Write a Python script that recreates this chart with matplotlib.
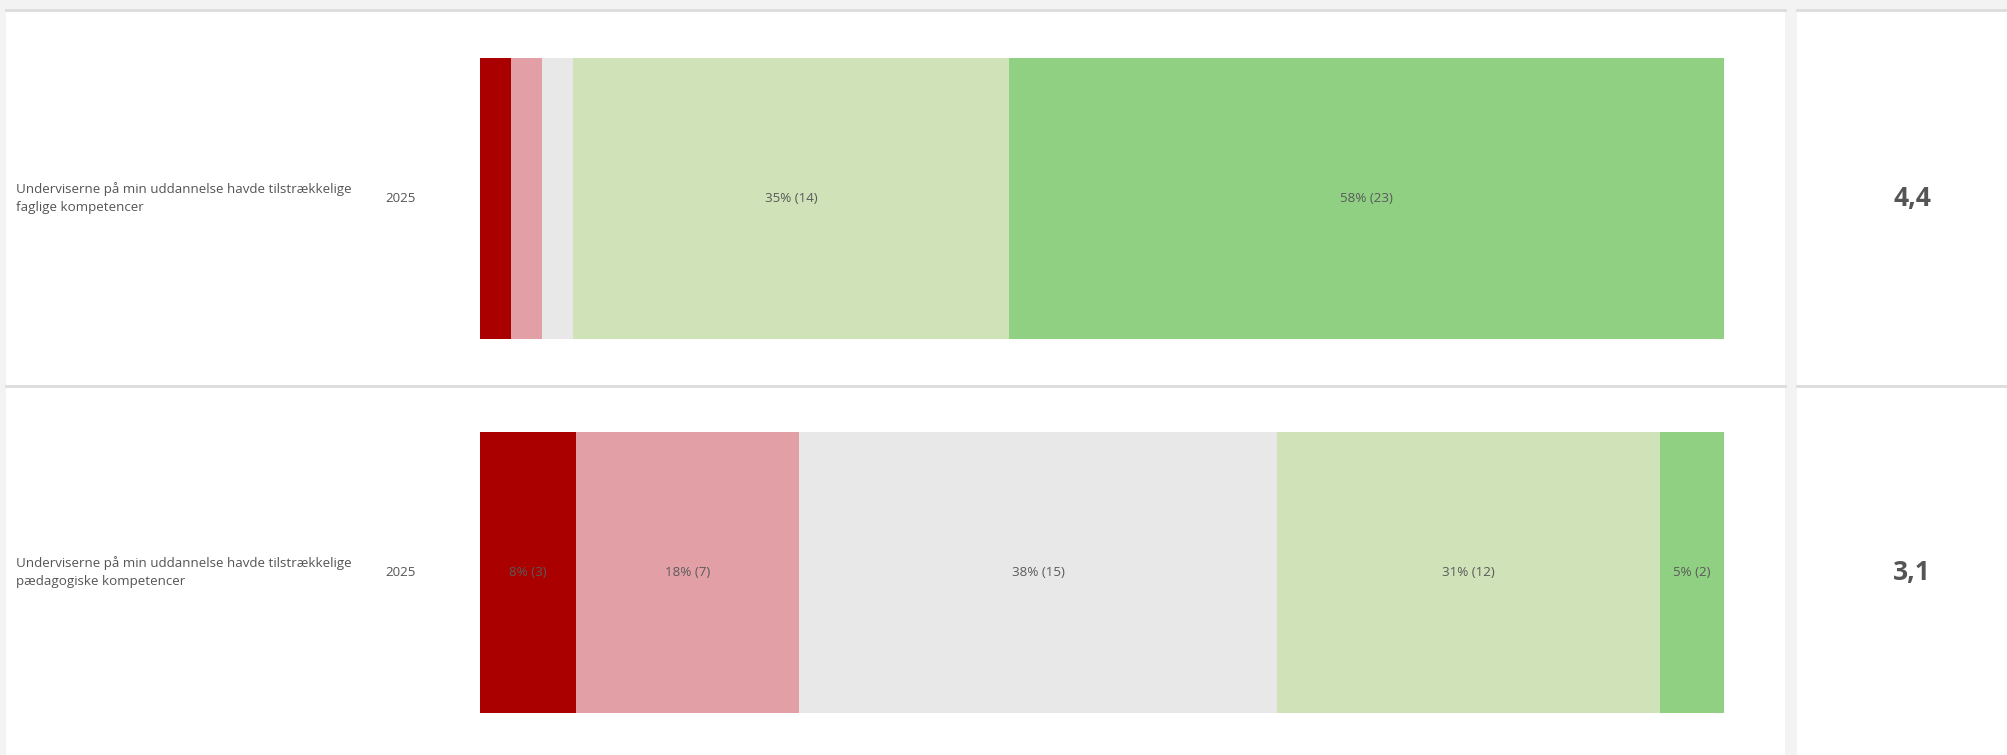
import numpy as np
import matplotlib.pyplot as plt
from matplotlib.patches import Rectangle

plt.rcParams['font.family'] = ['Open Sans', 'DejaVu Sans']

questions = ['Underviserne på min uddannelse havde tilstrækkelige\nfaglige kompetencer',
             'Underviserne på min uddannelse havde tilstrækkelige\npædagogiske kompetencer']
years = ['2025', '2025']
# answer counts, scale 1 (worst) .. 5 (best)
counts = [[1, 1, 1, 14, 23],
          [3, 7, 15, 12, 2]]
colors = ['#ab0000', '#e2a0a6', '#e8e8e8', '#cfe2b8', '#90d083']

W, H = 2008, 755
fig = plt.figure(figsize=(W / 100, H / 100), dpi=100, facecolor='#f3f3f3')

# background axes in pixel coords for panels and text
bg = fig.add_axes([0, 0, 1, 1])
bg.set_xlim(0, W)
bg.set_ylim(H, 0)
bg.axis('off')
bg.add_patch(Rectangle((6, 10), 1779, H - 10, color='white', lw=0))
bg.add_patch(Rectangle((1797, 10), W - 1797, H - 10, color='white', lw=0))
bg.plot([6, 1785], [10, 10], color='#dcdcdc', lw=2)
bg.plot([1797, W], [10, 10], color='#dcdcdc', lw=2)
bg.plot([6, 1785], [386, 386], color='#dcdcdc', lw=2)
bg.plot([1797, W], [386, 386], color='#dcdcdc', lw=2)

# bar axes: rows 374 px apart, first row centred at y=198.5
x0, x1 = 480, 1724
ax = fig.add_axes([x0 / W, 0, (x1 - x0) / W, (H - 10) / H])
ax.set_xlim(0, 1)
ax.set_ylim(1 + 182.5 / 374, -188.5 / 374)
ax.axis('off')
ax.patch.set_alpha(0)

row_px = [198.5, 572.5]
for i, c in enumerate(counts):
    n = sum(c)
    left = 0
    for j, k in enumerate(c):
        f = k / n
        ax.barh(i, f, left=left, height=281 / 374, color=colors[j], lw=0)
        if f >= 0.04:
            pct = (200 * k + n) // (2 * n)
            ax.text(left + f / 2, i, f'{pct}% ({k})', ha='center', va='center',
                    fontsize=9.6, color='#5a5a5a')
        left += f
    mean = sum(k * (j + 1) for j, k in enumerate(c)) / n
    y = row_px[i]
    bg.text(16, y, questions[i], ha='left', va='center', fontsize=9.6,
            color='#555555', linespacing=1.5)
    bg.text(385, y, years[i], ha='left', va='center', fontsize=9.6, color='#555555')
    bg.text(1912, y, f'{mean:.1f}'.replace('.', ','), ha='center', va='center',
            fontsize=19, fontweight='bold', color='#555555')

fig.savefig('out.png', dpi=100, facecolor=fig.get_facecolor())
